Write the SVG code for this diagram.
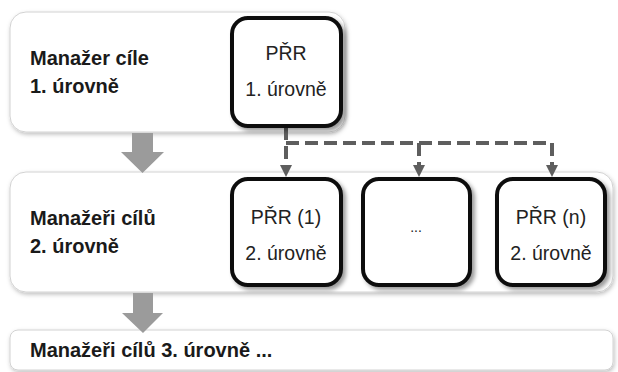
<svg xmlns="http://www.w3.org/2000/svg" width="618" height="372" viewBox="0 0 618 372">
<defs>
<style>
.panel{fill:#fff;stroke:#d2d2d2;stroke-width:1;filter:url(#psh)}
.box{fill:#fff;stroke:#111;stroke-width:4;filter:url(#bsh)}
.bold{font-family:"Liberation Sans",Arial,sans-serif;font-weight:bold;font-size:20px;fill:#1a1a1a}
.reg{font-family:"Liberation Sans",Arial,sans-serif;font-size:19.5px;fill:#222;text-anchor:middle}
.dash{fill:none;stroke:#5e5e5e;stroke-width:4;stroke-dasharray:13 6}
.big{fill:#9b9b9b}
</style>
<filter id="psh" x="-10%" y="-10%" width="120%" height="130%">
<feDropShadow dx="1" dy="2" stdDeviation="2" flood-color="#000" flood-opacity="0.25"/>
</filter>
<filter id="bsh" x="-15%" y="-15%" width="135%" height="135%">
<feDropShadow dx="3" dy="3" stdDeviation="2" flood-color="#000" flood-opacity="0.4"/>
</filter>
<marker id="ah" markerUnits="userSpaceOnUse" markerWidth="12" markerHeight="12" refX="0" refY="6" orient="auto" viewBox="0 0 12 12">
<path d="M0,0 L12,6 L0,12 z" fill="#5e5e5e"/>
</marker>
</defs>
<rect width="618" height="372" fill="#fff"/>
<g id="panel1">
<rect class="panel" x="10" y="12" width="335" height="120" rx="16"/>
<text class="bold" x="30" y="65">Manažer cíle</text>
<text class="bold" x="30" y="93">1. úrovně</text>
</g>
<g id="panel2">
<rect class="panel" x="10" y="172" width="603" height="120" rx="16"/>
<text class="bold" x="30" y="225">Manažeři cílů</text>
<text class="bold" x="30" y="253">2. úrovně</text>
</g>
<g id="panel3">
<rect class="panel" x="10" y="330" width="603" height="40" rx="8"/>
<text class="bold" x="30" y="357">Manažeři cílů 3. úrovně ...</text>
</g>
<g id="connectors">
<polygon class="big" points="132,133 153,133 153,152 164,152 142.5,173 121,152 132,152"/>
<polygon class="big" points="133,293 153,293 153,313 163,313 143,333 122,313 133,313"/>
<path class="dash" d="M286,127 V165" marker-end="url(#ah)"/>
<path class="dash" d="M286,143 H552"/>
<path class="dash" d="M419,143 V165" marker-end="url(#ah)"/>
<path class="dash" d="M552,143 V165" marker-end="url(#ah)"/>
</g>
<g id="prr1">
<rect class="box" x="232" y="18" width="109" height="108" rx="16"/>
<text class="reg" x="286" y="60">PŘR</text>
<text class="reg" x="286" y="96">1. úrovně</text>
</g>
<g id="prr2a">
<rect class="box" x="232" y="179" width="109" height="106" rx="16"/>
<text class="reg" x="286" y="224">PŘR (1)</text>
<text class="reg" x="286" y="260">2. úrovně</text>
</g>
<g id="prr2b">
<rect class="box" x="363" y="179" width="107" height="106" rx="16"/>
<text class="reg" x="416" y="232" style="font-size:14px">...</text>
</g>
<g id="prr2n">
<rect class="box" x="497" y="179" width="108" height="106" rx="16"/>
<text class="reg" x="551" y="224">PŘR (n)</text>
<text class="reg" x="551" y="260">2. úrovně</text>
</g>
</svg>
